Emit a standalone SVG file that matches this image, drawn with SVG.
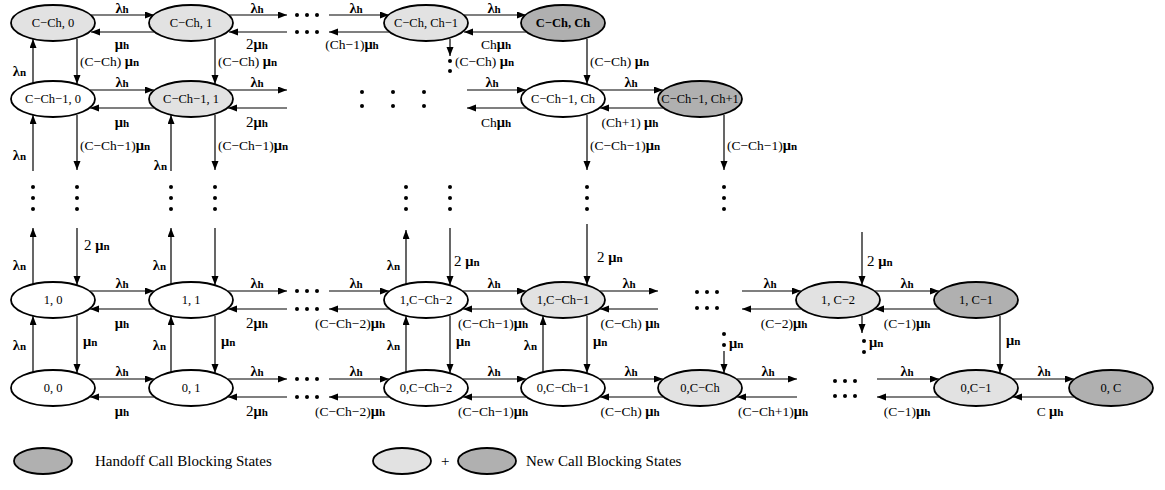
<svg xmlns="http://www.w3.org/2000/svg" width="1165" height="490" viewBox="0 0 1165 490">
<style>
.n{stroke:#000;stroke-width:1.8;fill:#fff}
.l{fill:#e2e2e2}
.d{fill:#b0b0b0}
.t{font-family:"Liberation Serif",serif;font-size:12.5px;text-anchor:middle;fill:#000}
.b{font-weight:bold}
.c path{stroke:#000;stroke-width:1.2;fill:none;marker-end:url(#ah)}
.dot{fill:#000}
.r,.rs,.re{font-family:"Liberation Serif",serif;font-size:14.5px;font-weight:bold;fill:#000}
.r{text-anchor:middle}
.rs{text-anchor:start}
.re{text-anchor:end}
.s{font-size:11px}
.p{font-size:13.5px;font-weight:normal}
.q{font-size:15px;font-weight:normal}
.lg{font-family:"Liberation Serif",serif;font-size:15px;fill:#000}
</style>
<defs>
<marker id="ah" markerUnits="userSpaceOnUse" markerWidth="10" markerHeight="8" refX="9" refY="3.5" orient="auto">
<path d="M0,0 L9,3.5 L0,7 z" fill="#000"/>
</marker>
</defs>

<g id="connectors" class="c">
<path d="M91,15H154"/><path d="M154,32H91"/>
<path d="M229,15H287"/><path d="M287,32H229"/>
<path d="M329,15H389"/><path d="M389,32H329"/>
<path d="M464,15H526"/><path d="M526,32H464"/>
<path d="M33,84V39"/><path d="M77,39V84"/><path d="M215,39V84"/><path d="M450,39V56"/><path d="M587,39V84"/>
<path d="M90,90H154"/><path d="M154,108H90"/>
<path d="M228,90H287"/><path d="M287,108H228"/>
<path d="M467,90H526"/><path d="M526,108H467"/>
<path d="M600,90H663"/><path d="M663,108H600"/>
<path d="M77,115V170"/><path d="M33,171V115"/>
<path d="M215,115V170"/><path d="M171,171V115"/>
<path d="M587,115V170"/><path d="M724,115V170"/>
<path d="M33,285V228"/><path d="M77,228V285"/>
<path d="M171,285V228"/><path d="M215,228V285"/>
<path d="M406,285V230"/><path d="M450,228V285"/>
<path d="M587,224V285"/><path d="M862,232V285"/>
<path d="M90,291H154"/><path d="M154,309H90"/>
<path d="M228,291H287"/><path d="M287,309H228"/>
<path d="M329,291H389"/><path d="M389,309H329"/>
<path d="M463,291H526"/><path d="M526,309H463"/>
<path d="M600,291H658"/><path d="M658,309H600"/>
<path d="M742,291H801"/><path d="M801,309H742"/>
<path d="M875,291H939"/><path d="M939,309H875"/>
<path d="M33,373V316"/><path d="M77,316V373"/>
<path d="M171,373V316"/><path d="M215,316V373"/>
<path d="M406,373V316"/><path d="M450,316V373"/>
<path d="M543,373V316"/><path d="M587,316V373"/>
<path d="M724,351V373"/><path d="M862,316V333"/><path d="M1000,316V373"/>
<path d="M90,379H154"/><path d="M154,397H90"/>
<path d="M228,379H287"/><path d="M287,397H228"/>
<path d="M329,379H389"/><path d="M389,397H329"/>
<path d="M463,379H526"/><path d="M526,397H463"/>
<path d="M600,379H663"/><path d="M663,397H600"/>
<path d="M737,379H797"/><path d="M797,397H737"/>
<path d="M877,379H939"/><path d="M939,397H877"/>
<path d="M1013,379H1074"/><path d="M1074,397H1013"/>
</g>

<g id="dots" class="dot">
<circle cx="297" cy="15" r="2"/><circle cx="307" cy="15" r="2"/><circle cx="317" cy="15" r="2"/>
<circle cx="297" cy="32" r="2"/><circle cx="307" cy="32" r="2"/><circle cx="317" cy="32" r="2"/>
<circle cx="450" cy="61" r="2"/><circle cx="450" cy="71" r="2"/>
<circle cx="362" cy="92" r="2"/><circle cx="393" cy="92" r="2"/><circle cx="424" cy="92" r="2"/>
<circle cx="362" cy="106" r="2"/><circle cx="393" cy="106" r="2"/><circle cx="424" cy="106" r="2"/>
<circle cx="33" cy="187" r="2"/><circle cx="33" cy="198" r="2"/><circle cx="33" cy="209" r="2"/>
<circle cx="77" cy="187" r="2"/><circle cx="77" cy="198" r="2"/><circle cx="77" cy="209" r="2"/>
<circle cx="171" cy="187" r="2"/><circle cx="171" cy="198" r="2"/><circle cx="171" cy="209" r="2"/>
<circle cx="215" cy="187" r="2"/><circle cx="215" cy="198" r="2"/><circle cx="215" cy="209" r="2"/>
<circle cx="406" cy="187" r="2"/><circle cx="406" cy="198" r="2"/><circle cx="406" cy="209" r="2"/>
<circle cx="450" cy="187" r="2"/><circle cx="450" cy="198" r="2"/><circle cx="450" cy="209" r="2"/>
<circle cx="587" cy="187" r="2"/><circle cx="587" cy="198" r="2"/><circle cx="587" cy="209" r="2"/>
<circle cx="724" cy="187" r="2"/><circle cx="724" cy="198" r="2"/><circle cx="724" cy="209" r="2"/>
<circle cx="297" cy="291" r="2"/><circle cx="307" cy="291" r="2"/><circle cx="317" cy="291" r="2"/>
<circle cx="297" cy="309" r="2"/><circle cx="307" cy="309" r="2"/><circle cx="317" cy="309" r="2"/>
<circle cx="697" cy="292" r="2"/><circle cx="707" cy="292" r="2"/><circle cx="717" cy="292" r="2"/>
<circle cx="697" cy="308" r="2"/><circle cx="707" cy="308" r="2"/><circle cx="717" cy="308" r="2"/>
<circle cx="724" cy="334" r="2"/><circle cx="724" cy="345" r="2"/>
<circle cx="864" cy="341" r="2"/><circle cx="864" cy="352" r="2"/>
<circle cx="297" cy="379" r="2"/><circle cx="307" cy="379" r="2"/><circle cx="317" cy="379" r="2"/>
<circle cx="297" cy="397" r="2"/><circle cx="307" cy="397" r="2"/><circle cx="317" cy="397" r="2"/>
<circle cx="835" cy="381" r="2"/><circle cx="845" cy="381" r="2"/><circle cx="855" cy="381" r="2"/>
<circle cx="835" cy="396" r="2"/><circle cx="845" cy="396" r="2"/><circle cx="855" cy="396" r="2"/>
</g>

<g id="rates">
<text class="r" x="122" y="13">λ<tspan class="s">h</tspan></text>
<text class="r" x="257" y="13">λ<tspan class="s">h</tspan></text>
<text class="r" x="356" y="13">λ<tspan class="s">h</tspan></text>
<text class="r" x="494" y="13">λ<tspan class="s">h</tspan></text>
<text class="r" x="122" y="49">μ<tspan class="s">h</tspan></text>
<text class="r" x="257" y="49"><tspan class="q">2</tspan>μ<tspan class="s">h</tspan></text>
<text class="r" x="352" y="49"><tspan class="p">(Ch−1)</tspan>μ<tspan class="s">h</tspan></text>
<text class="r" x="496" y="49"><tspan class="p">Ch</tspan>μ<tspan class="s">h</tspan></text>
<text class="re" x="26" y="76">λ<tspan class="s">n</tspan></text>
<text class="rs" x="80" y="66"><tspan class="p">(C−Ch) </tspan>μ<tspan class="s">n</tspan></text>
<text class="rs" x="218" y="66"><tspan class="p">(C−Ch) </tspan>μ<tspan class="s">n</tspan></text>
<text class="rs" x="455" y="66"><tspan class="p">(C−Ch) </tspan>μ<tspan class="s">n</tspan></text>
<text class="rs" x="590" y="66"><tspan class="p">(C−Ch) </tspan>μ<tspan class="s">n</tspan></text>

<text class="r" x="122" y="87">λ<tspan class="s">h</tspan></text>
<text class="r" x="257" y="87">λ<tspan class="s">h</tspan></text>
<text class="r" x="492" y="87">λ<tspan class="s">h</tspan></text>
<text class="r" x="631" y="87">λ<tspan class="s">h</tspan></text>
<text class="r" x="122" y="127">μ<tspan class="s">h</tspan></text>
<text class="r" x="257" y="127"><tspan class="q">2</tspan>μ<tspan class="s">h</tspan></text>
<text class="r" x="496" y="127"><tspan class="p">Ch</tspan>μ<tspan class="s">h</tspan></text>
<text class="r" x="630" y="127"><tspan class="p">(Ch+1) </tspan>μ<tspan class="s">h</tspan></text>
<text class="re" x="26" y="160">λ<tspan class="s">n</tspan></text>
<text class="re" x="167" y="170">λ<tspan class="s">n</tspan></text>
<text class="rs" x="80" y="150"><tspan class="p">(C−Ch−1)</tspan>μ<tspan class="s">n</tspan></text>
<text class="rs" x="218" y="150"><tspan class="p">(C−Ch−1)</tspan>μ<tspan class="s">n</tspan></text>
<text class="rs" x="590" y="150"><tspan class="p">(C−Ch−1)</tspan>μ<tspan class="s">n</tspan></text>
<text class="rs" x="727" y="150"><tspan class="p">(C−Ch−1)</tspan>μ<tspan class="s">n</tspan></text>

<text class="re" x="26" y="270">λ<tspan class="s">n</tspan></text>
<text class="rs" x="84" y="250"><tspan class="q">2 </tspan>μ<tspan class="s">n</tspan></text>
<text class="re" x="166" y="270">λ<tspan class="s">n</tspan></text>
<text class="re" x="400" y="270">λ<tspan class="s">n</tspan></text>
<text class="rs" x="454" y="266"><tspan class="q">2 </tspan>μ<tspan class="s">n</tspan></text>
<text class="rs" x="597" y="262"><tspan class="q">2 </tspan>μ<tspan class="s">n</tspan></text>
<text class="rs" x="867" y="266"><tspan class="q">2 </tspan>μ<tspan class="s">n</tspan></text>

<text class="r" x="122" y="288">λ<tspan class="s">h</tspan></text>
<text class="r" x="257" y="288">λ<tspan class="s">h</tspan></text>
<text class="r" x="356" y="288">λ<tspan class="s">h</tspan></text>
<text class="r" x="494" y="288">λ<tspan class="s">h</tspan></text>
<text class="r" x="629" y="288">λ<tspan class="s">h</tspan></text>
<text class="r" x="770" y="288">λ<tspan class="s">h</tspan></text>
<text class="r" x="907" y="288">λ<tspan class="s">h</tspan></text>
<text class="r" x="122" y="328">μ<tspan class="s">h</tspan></text>
<text class="r" x="257" y="328"><tspan class="q">2</tspan>μ<tspan class="s">h</tspan></text>
<text class="r" x="350" y="328"><tspan class="p">(C−Ch−2)</tspan>μ<tspan class="s">h</tspan></text>
<text class="r" x="493" y="328"><tspan class="p">(C−Ch−1)</tspan>μ<tspan class="s">h</tspan></text>
<text class="r" x="630" y="328"><tspan class="p">(C−Ch) </tspan>μ<tspan class="s">h</tspan></text>
<text class="r" x="784" y="328"><tspan class="p">(C−2)</tspan>μ<tspan class="s">h</tspan></text>
<text class="r" x="907" y="328"><tspan class="p">(C−1)</tspan>μ<tspan class="s">h</tspan></text>

<text class="re" x="26" y="350">λ<tspan class="s">n</tspan></text>
<text class="rs" x="83" y="346">μ<tspan class="s">n</tspan></text>
<text class="re" x="166" y="350">λ<tspan class="s">n</tspan></text>
<text class="rs" x="221" y="346">μ<tspan class="s">n</tspan></text>
<text class="re" x="400" y="350">λ<tspan class="s">n</tspan></text>
<text class="rs" x="456" y="346">μ<tspan class="s">n</tspan></text>
<text class="re" x="537" y="350">λ<tspan class="s">n</tspan></text>
<text class="rs" x="593" y="346">μ<tspan class="s">n</tspan></text>
<text class="rs" x="729" y="348">μ<tspan class="s">n</tspan></text>
<text class="rs" x="869" y="347">μ<tspan class="s">n</tspan></text>
<text class="rs" x="1006" y="345">μ<tspan class="s">n</tspan></text>

<text class="r" x="122" y="376">λ<tspan class="s">h</tspan></text>
<text class="r" x="257" y="376">λ<tspan class="s">h</tspan></text>
<text class="r" x="356" y="376">λ<tspan class="s">h</tspan></text>
<text class="r" x="494" y="376">λ<tspan class="s">h</tspan></text>
<text class="r" x="631" y="376">λ<tspan class="s">h</tspan></text>
<text class="r" x="768" y="376">λ<tspan class="s">h</tspan></text>
<text class="r" x="907" y="376">λ<tspan class="s">h</tspan></text>
<text class="r" x="1044" y="376">λ<tspan class="s">h</tspan></text>
<text class="r" x="122" y="416">μ<tspan class="s">h</tspan></text>
<text class="r" x="257" y="416"><tspan class="q">2</tspan>μ<tspan class="s">h</tspan></text>
<text class="r" x="350" y="416"><tspan class="p">(C−Ch−2)</tspan>μ<tspan class="s">h</tspan></text>
<text class="r" x="493" y="416"><tspan class="p">(C−Ch−1)</tspan>μ<tspan class="s">h</tspan></text>
<text class="r" x="630" y="416"><tspan class="p">(C−Ch) </tspan>μ<tspan class="s">h</tspan></text>
<text class="r" x="773" y="416"><tspan class="p">(C−Ch+1)</tspan>μ<tspan class="s">h</tspan></text>
<text class="r" x="907" y="416"><tspan class="p">(C−1)</tspan>μ<tspan class="s">h</tspan></text>
<text class="r" x="1050" y="416"><tspan class="p">C </tspan>μ<tspan class="s">h</tspan></text>
</g>

<g id="n_cch_0"><ellipse class="n l" cx="53" cy="23" rx="42" ry="18"/><text class="t" x="53" y="27">C−Ch, 0</text></g>
<g id="n_cch_1"><ellipse class="n l" cx="191" cy="23" rx="42" ry="18"/><text class="t" x="191" y="27">C−Ch, 1</text></g>
<g id="n_cch_chm1"><ellipse class="n l" cx="426" cy="23" rx="42" ry="18"/><text class="t" x="426" y="27">C−Ch, Ch−1</text></g>
<g id="n_cch_ch"><ellipse class="n d" cx="563" cy="23" rx="42" ry="18"/><text class="t b" x="563" y="27">C−Ch, Ch</text></g>

<g id="n_cch1_0"><ellipse class="n" cx="53" cy="99" rx="42" ry="18"/><text class="t" x="53" y="103">C−Ch−1, 0</text></g>
<g id="n_cch1_1"><ellipse class="n l" cx="191" cy="99" rx="42" ry="18"/><text class="t" x="191" y="103">C−Ch−1, 1</text></g>
<g id="n_cch1_ch"><ellipse class="n" cx="563" cy="99" rx="42" ry="18"/><text class="t" x="563" y="103">C−Ch−1, Ch</text></g>
<g id="n_cch1_ch1"><ellipse class="n d" cx="700" cy="99" rx="42" ry="18"/><text class="t" x="700" y="103">C−Ch−1, Ch+1</text></g>

<g id="n_1_0"><ellipse class="n" cx="53" cy="300" rx="42" ry="18"/><text class="t" x="53" y="304">1, 0</text></g>
<g id="n_1_1"><ellipse class="n" cx="191" cy="300" rx="42" ry="18"/><text class="t" x="191" y="304">1, 1</text></g>
<g id="n_1_cch2"><ellipse class="n" cx="426" cy="300" rx="42" ry="18"/><text class="t" x="426" y="304">1,C−Ch−2</text></g>
<g id="n_1_cch1"><ellipse class="n l" cx="563" cy="300" rx="42" ry="18"/><text class="t" x="563" y="304">1,C−Ch−1</text></g>
<g id="n_1_c2"><ellipse class="n l" cx="838" cy="300" rx="42" ry="18"/><text class="t" x="838" y="304">1, C−2</text></g>
<g id="n_1_c1"><ellipse class="n d" cx="976" cy="300" rx="42" ry="18"/><text class="t" x="976" y="304">1, C−1</text></g>

<g id="n_0_0"><ellipse class="n" cx="53" cy="388" rx="42" ry="18"/><text class="t" x="53" y="392">0, 0</text></g>
<g id="n_0_1"><ellipse class="n" cx="191" cy="388" rx="42" ry="18"/><text class="t" x="191" y="392">0, 1</text></g>
<g id="n_0_cch2"><ellipse class="n" cx="426" cy="388" rx="42" ry="18"/><text class="t" x="426" y="392">0,C−Ch−2</text></g>
<g id="n_0_cch1"><ellipse class="n" cx="563" cy="388" rx="42" ry="18"/><text class="t" x="563" y="392">0,C−Ch−1</text></g>
<g id="n_0_cch"><ellipse class="n l" cx="700" cy="388" rx="42" ry="18"/><text class="t" x="700" y="392">0,C−Ch</text></g>
<g id="n_0_c1"><ellipse class="n l" cx="976" cy="388" rx="42" ry="18"/><text class="t" x="976" y="392">0,C−1</text></g>
<g id="n_0_c"><ellipse class="n d" cx="1111" cy="388" rx="42" ry="18"/><text class="t" x="1111" y="392">0, C</text></g>

<g id="legend">
<ellipse class="n d" cx="43" cy="461" rx="29" ry="13"/>
<text class="lg" x="95" y="466">Handoff Call Blocking States</text>
<ellipse class="n l" cx="402" cy="461" rx="29" ry="13"/>
<text class="lg" x="441" y="466">+</text>
<ellipse class="n d" cx="487" cy="461" rx="29" ry="13"/>
<text class="lg" x="526" y="466">New Call Blocking States</text>
</g>
</svg>
